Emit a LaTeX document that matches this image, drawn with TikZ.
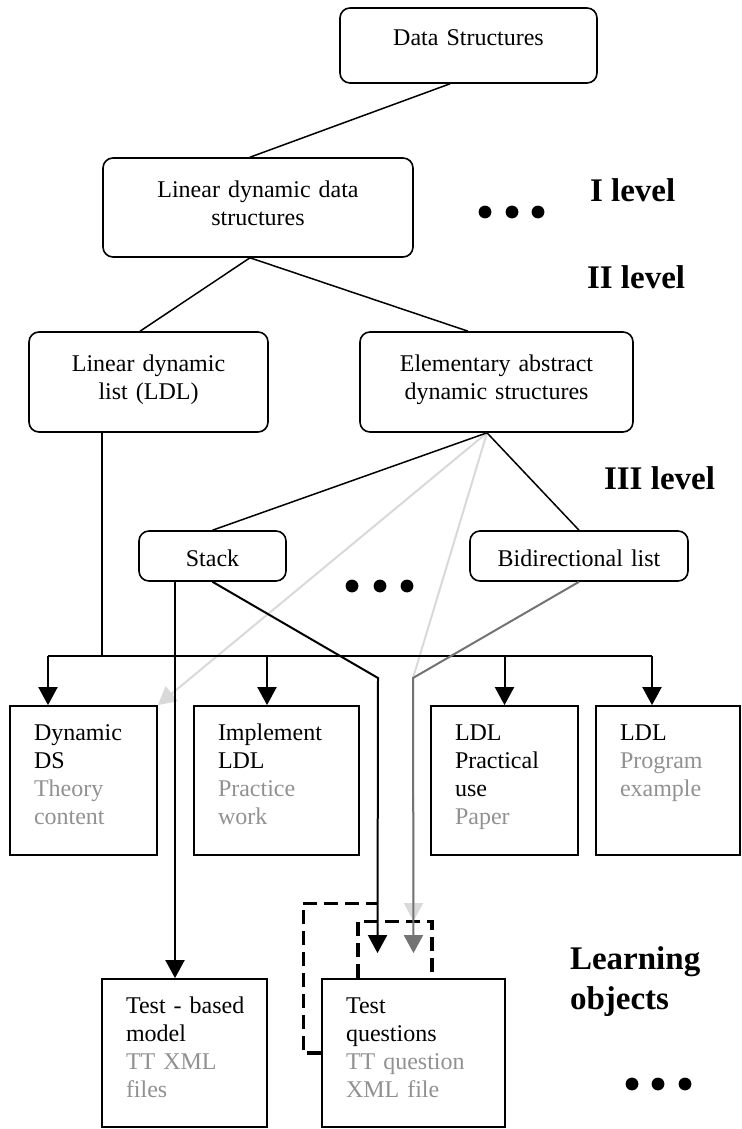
\documentclass[tikz,border=0pt]{standalone}
\usepackage{fontspec}
\setmainfont{Liberation Serif}
\usetikzlibrary{arrows.meta}
\definecolor{lotext}{gray}{0.57}
\definecolor{lightlink}{gray}{0.85}
\definecolor{darklink}{gray}{0.45}
\begin{document}
\begin{tikzpicture}
[x=0.5pt,y=-0.5pt,
  topicdecorate/.style={shape=rectangle,draw,rounded corners=5pt,line width=0.8pt,align=center,inner xsep=0pt,inner ysep=0pt,font=\fontsize{12}{14}\selectfont},%
  objectdecorate/.style={shape=rectangle,draw,line width=0.9pt,align=left,inner xsep=12pt,inner ysep=0pt,text height=17pt,font=\fontsize{12}{14}\selectfont},%
  leveldecorate/.style={anchor=west,align=left,font=\fontsize{16.5}{20}\selectfont\bfseries},%
  linkdecorate/.style={-,line width=0.75pt},%
  arrowdecorate/.style={-{Triangle[width=9.5pt,length=9pt]},line width=1pt},%
  dashdecorate/.style={line width=1.6pt,dash pattern=on 7pt off 3.5pt}]
\useasboundingbox (0,0) rectangle (741,1129);
% topics
\node (ds) at (468.5,45.5) [topicdecorate,text width=128.5pt,text height=19pt,text depth=18.5pt] {Data Structures};
\node (ldds) at (258,207.5) [topicdecorate,text width=155pt,text height=19.5pt,text depth=30pt] {Linear dynamic data\\structures};
\node (ldl) at (148.5,382) [topicdecorate,text width=119.5pt,text height=19.5pt,text depth=30.5pt] {Linear dynamic\\list (LDL)};
\node (eads) at (496.5,382) [topicdecorate,text width=136.5pt,text height=19.5pt,text depth=30.5pt] {Elementary abstract\\dynamic structures};
\node (stack) at (212.5,556) [topicdecorate,text width=73.5pt,text height=17.5pt,text depth=7.5pt] {Stack};
\node (bidir) at (579,556) [topicdecorate,text width=109pt,text height=17.5pt,text depth=7.5pt] {Bidirectional list};
% learning objects
\node (dynds) at (83.5,780.5) [objectdecorate,text width=49.5pt,text depth=57.5pt] {Dynamic\\DS\\\textcolor{lotext}{Theory}\\\textcolor{lotext}{content}};
\node (impl) at (276.5,780.5) [objectdecorate,text width=58.5pt,text depth=57.5pt] {Implement\\LDL\\\textcolor{lotext}{Practice}\\\textcolor{lotext}{work}};
\node (prac) at (504.5,780.5) [objectdecorate,text width=49.5pt,text depth=57.5pt] {LDL\\Practical\\use\\\textcolor{lotext}{Paper}};
\node (prog) at (668,780.5) [objectdecorate,text width=48pt,text depth=57.5pt] {LDL\\\textcolor{lotext}{Program}\\\textcolor{lotext}{example}};
\node (tbm) at (184.5,1053) [objectdecorate,text width=58.5pt,text depth=57pt] {\mbox{Test - based}\\model\\\textcolor{lotext}{TT XML}\\\textcolor{lotext}{files}};
\node (tq) at (413.5,1053) [objectdecorate,text width=67.5pt,text depth=57pt] {Test\\questions\\\textcolor{lotext}{TT question}\\\textcolor{lotext}{XML file}};
% levels
\node (lvla) at (583,190) [leveldecorate] {I level};
\node (lvlb) at (580,277) [leveldecorate] {II level};
\node (lvlc) at (597,478) [leveldecorate] {III level};
\node (lvlo) at (563,982) [leveldecorate] {Learning\\objects};
\fill (485,212) circle (3.2pt) (512,212) circle (3.2pt) (538,212) circle (3.2pt);
\fill (352,586) circle (3.2pt) (380,586) circle (3.2pt) (407,586) circle (3.2pt);
\fill (632,1084) circle (3.2pt) (658,1084) circle (3.2pt) (685,1084) circle (3.2pt);
% helper points
\coordinate (eadsfoot) at ([xshift=-4.75pt]eads.south);
\coordinate (ldsfoot) at ([xshift=-4pt]ldds.south);
\coordinate (ldlfoot) at ([xshift=-23.25pt]ldl.south);
\coordinate (stackfoot) at ([xshift=-18.75pt]stack.south);
\coordinate (bus) at (0,656);
\coordinate (dyndsin) at ([xshift=-17.75pt]dynds.north);
\coordinate (implin) at ([xshift=-4.75pt]impl.north);
\coordinate (pracin) at (prac.north);
\coordinate (progin) at ([xshift=-8pt]prog.north);
\coordinate (stackbend) at (378,678);
\coordinate (bidirbend) at (413,678);
% edges or lines
\draw[linkdecorate] ([xshift=-9.25pt]ds.south) -- ([xshift=-4pt]ldds.north);
\draw[linkdecorate] (ldsfoot) -- ([xshift=-4.25pt]ldl.north);
\draw[linkdecorate] (ldsfoot) -- ([xshift=-14.25pt]eads.north);
\draw[arrowdecorate,lightlink] (eadsfoot) -- (dynds.north east);
\draw[arrowdecorate,lightlink] (eadsfoot) -- (bidirbend) -- ([yshift=28.5pt]tq.north);
\draw[linkdecorate] (eadsfoot) -- (stack.north);
\draw[linkdecorate] (eadsfoot) -- (bidir.north);
\draw[line width=1pt] (ldlfoot) -- (ldlfoot |- bus);
\draw[line width=1pt] (dyndsin |- bus) -- (progin |- bus);
\draw[arrowdecorate] (dyndsin |- bus) -- (dyndsin);
\draw[arrowdecorate] (implin |- bus) -- (implin);
\draw[arrowdecorate] (pracin |- bus) -- (pracin);
\draw[arrowdecorate] (progin |- bus) -- (progin);
\draw[arrowdecorate] (stackfoot) -- (stackfoot |- tbm.north);
\draw[dashdecorate] (tq.west) -- ++(-9pt,0) |- ([xshift=-18pt,yshift=37.5pt]tq.north);
\draw[dashdecorate] ([xshift=-27.75pt]tq.north) |- ([xshift=9.25pt,yshift=28.5pt]tq.north) -- ([xshift=9.25pt]tq.north);
\draw[arrowdecorate,darklink] (bidir.south) -- (bidirbend) -- ([yshift=12.5pt]tq.north);
\draw[arrowdecorate] (stack.south) -- (stackbend) -- ([xshift=-18pt,yshift=12.5pt]tq.north);
\end{tikzpicture}
\end{document}
